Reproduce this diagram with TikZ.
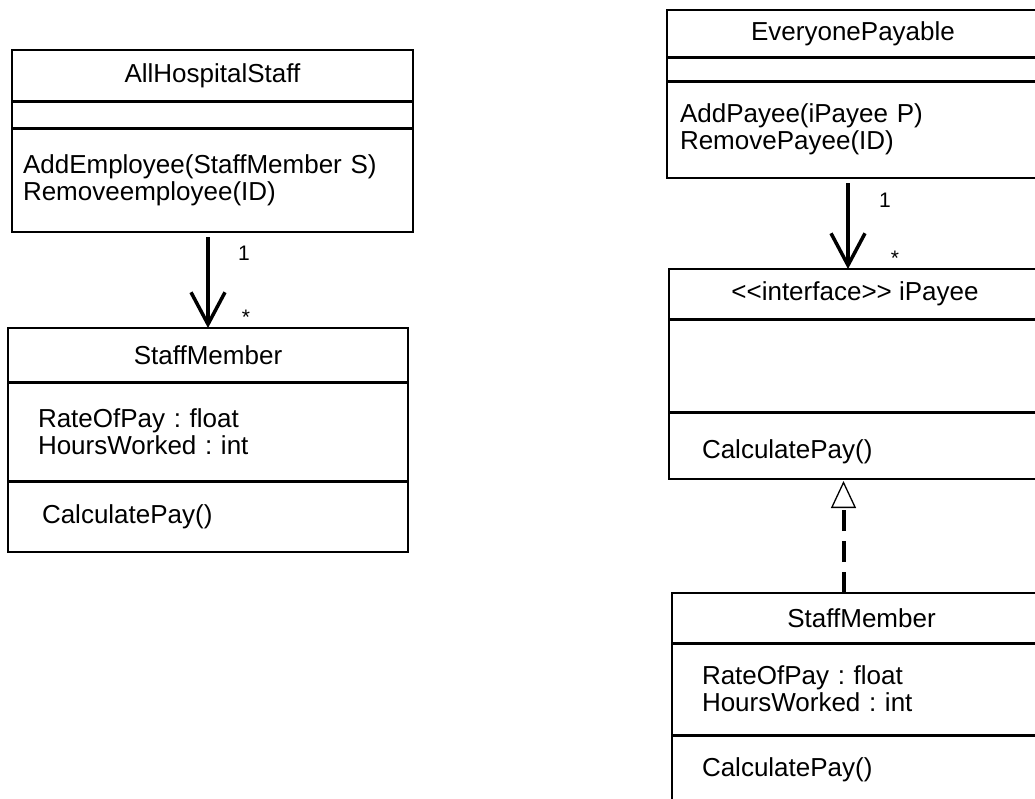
\documentclass[tikz,border=0pt]{standalone}
\usepackage{fontspec}
\setmainfont{Liberation Sans}
\usetikzlibrary{arrows.meta}
\frenchspacing

\tikzset{
  box/.style={draw, line width=1.8pt, anchor=north west, inner sep=0pt, outer sep=0pt,
    font=\fontsize{26}{27}\selectfont},
  body/.style={box, align=left},
  divider/.style={line width=3pt},
  assoc/.style={line width=3.5pt, -{Straight Barb[length=32pt, width=34pt]}},
  realize/.style={line width=4pt, dash pattern=on 21pt off 10pt,
    -{Triangle[open, length=27pt, width=25pt, line width=1.3pt]}},
  mult/.style={inner sep=0pt, font=\fontsize{21}{21}\selectfont}
}

\begin{document}
\begin{tikzpicture}[x=1pt, y=-1pt]
    \useasboundingbox (0,0) rectangle (1035,798);
    \clip (0,0) rectangle (1035,798);
    % left diagram
    \node[box, minimum width=401pt, minimum height=51pt] (hsname) at (12,50) {AllHospitalStaff};
    \node[box, minimum width=401pt, minimum height=27pt] (hsattr) at (hsname.south west) {};
    \node[body, minimum height=104pt, text width=379pt, inner xsep=11pt] (hsops) at (hsattr.south west)
        {AddEmployee(StaffMember S)\\Removeemployee(ID)};
    \node[box, minimum width=400pt, minimum height=54pt] (smname) at (8,328) {StaffMember};
    \node[body, minimum height=99pt, text width=340pt, inner xsep=30pt] (smattr) at (smname.south west)
        {RateOfPay : float\\HoursWorked : int};
    \node[body, minimum height=71pt, text width=332pt, inner xsep=34pt] (smops) at (smattr.south west)
        {CalculatePay()};
    % right diagram
    \node[box, minimum width=372pt, minimum height=47pt] (epname) at (667,10) {EveryonePayable};
    \node[box, minimum width=372pt, minimum height=24pt] (epattr) at (epname.south west) {};
    \node[body, minimum height=97pt, text width=346pt, inner xsep=13pt] (epops) at (epattr.south west)
        {AddPayee(iPayee P)\\RemovePayee(ID)};
    \node[box, minimum width=372pt, minimum height=50pt] (ipname) at (669,269) {<{}<interface>{}> iPayee};
    \node[box, minimum width=372pt, minimum height=93pt] (ipattr) at (ipname.south west) {};
    \node[body, minimum height=67pt, text width=306pt, inner xsep=33pt, text height=32pt] (ipops)
        at (ipattr.south west) {CalculatePay()};
    \node[box, minimum width=379pt, minimum height=50pt] (smbname) at (672,593) {StaffMember};
    \node[body, minimum height=92pt, text width=319pt, inner xsep=30pt] (smbattr) at (smbname.south west)
        {RateOfPay : float\\HoursWorked : int};
    \node[body, minimum height=70pt, text width=319pt, inner xsep=30pt] (smbops) at (smbattr.south west)
        {CalculatePay()};
    % compartment lines
    \foreach \c in {hsname,hsattr,smname,smattr,epname,epattr,ipname,ipattr,smbname,smbattr}
        \draw[divider] (\c.south west) -- (\c.south east);
    % connectors
    \draw[assoc, shorten <=5pt] (hsops.south -| smname.north) -- (smname.north)
        node[mult, pos=0.22, xshift=36pt] (hsone) {1}
        node[mult, pos=0.885, xshift=38pt] (hsmany) {*};
    \coordinate (epfoot) at ([xshift=-5pt]epops.south);
    \draw[assoc, shorten <=5pt] (epfoot) -- (epfoot |- ipname.north)
        node[mult, pos=0.24, xshift=37pt] (epone) {1}
        node[mult, pos=0.88, xshift=47pt] (epmany) {*};
    \coordinate (smbtop) at ([xshift=-18pt]smbname.north);
    \draw[realize, shorten >=2pt] (smbtop) -- (smbtop |- ipops.south);
\end{tikzpicture}
\end{document}
